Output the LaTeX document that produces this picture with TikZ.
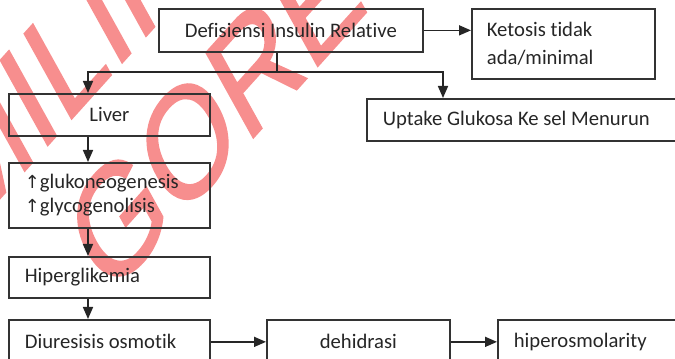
\documentclass[tikz,border=0pt]{standalone}
\usepackage{fontspec}
\setmainfont{Carlito}[Ligatures=NoCommon]
\newfontfamily\uparrowfont{DejaVu Sans}
\newfontfamily\stampfont{Liberation Sans}[FakeBold=1.5]
\usetikzlibrary{arrows.meta}
\newcommand{\upar}{{\uparrowfont\fontsize{13.5}{13.5}\selectfont ↑}}
\definecolor{stampred}{RGB}{247,142,142}

\begin{document}
\begin{tikzpicture}[x=0.75pt,y=-0.75pt,
  box/.style={draw=black!80, line width=1.3pt, anchor=north west, inner sep=0pt,
              text=black!85, font=\fontsize{15.5}{20}\selectfont},
  lbox/.style={box, align=flush left, text width=#1, inner xsep=12pt},
  link/.style={draw=black!85, line width=1.2pt},
  arr/.style={link, -{Triangle[length=9pt,width=7.5pt]}},
  stamp/.style={anchor=base west, inner sep=0pt, text=stampred,
                font=\stampfont\fontsize{100}{100}\selectfont,
                rotate=48, xslant=0.344}]

\useasboundingbox (0,0) rectangle (675,359);
\clip (0,0) rectangle (675,359);

% stamp behind the chart
\node[stamp] (stampA) at (-35,237) {MILIK};
\node[stamp] (stampB) at (107,300) {GORES};

% boxes
\node[box, minimum width=198pt, minimum height=32.25pt] (def) at (158,8) {Defisiensi Insulin Relative};
\node[lbox=114.75pt, inner xsep=11.25pt, minimum height=52.5pt,
      font=\fontsize{15.5}{21}\selectfont] (ket) at (471,8) {Ketosis tidak\\ada/minimal};
\node[box, minimum width=150.75pt, minimum height=31.5pt] (liver) at (8,93) {Liver};
\node[lbox=223.5pt, minimum height=31.5pt] (uptake) at (366,98) {Uptake Glukosa Ke sel Menurun};
\node[lbox=126.75pt, minimum height=48.75pt,
      font=\fontsize{15.5}{18}\selectfont] (gluko) at (8,162) {\upar glukoneogenesis\\\upar glycogenolisis};
\node[lbox=126.75pt, minimum height=30.75pt] (hiper) at (8,256) {Hiperglikemia};
\node[lbox=126.75pt, minimum height=33pt] (diur) at (8,319) {Diuresisis osmotik};
\node[box, minimum width=137.25pt, minimum height=33pt] (deh) at (266,319) {dehidrasi};
\node[lbox=126pt, minimum height=33pt] (hyp) at (497,319) {hiperosmolarity};

% connectors
\coordinate (split) at (277,72);
\coordinate (toL) at (88,72);
\coordinate (toU) at (443,72);
\draw[arr] (def.east) -- (def.east -| ket.west);
\draw[link] (def.south -| split) -- (split);
\draw[arr] (split) -- (toL) -- (toL |- liver.north);
\draw[arr] (split) -- (toU) -- (toU |- uptake.north);
\draw[arr] (toL |- liver.south) -- (toL |- gluko.north);
\draw[arr] (toL |- gluko.south) -- (toL |- hiper.north);
\draw[arr] (toL |- hiper.south) -- (toL |- diur.north);
\draw[arr] (diur.east) -- (deh.west);
\draw[arr] (deh.east) -- (hyp.west);
\end{tikzpicture}
\end{document}
